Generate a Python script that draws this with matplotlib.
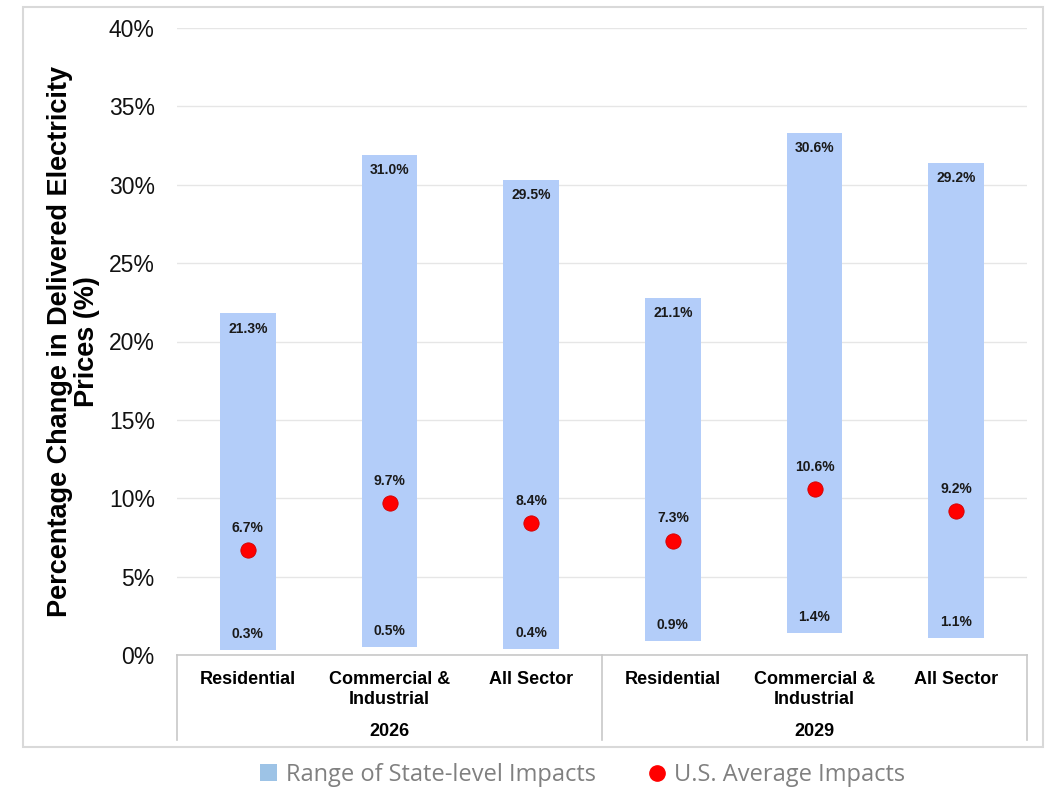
import matplotlib
matplotlib.use("Agg")
import matplotlib.pyplot as plt
from matplotlib.patches import Rectangle, Patch
from matplotlib.lines import Line2D
from matplotlib.ticker import FuncFormatter, MultipleLocator
import numpy as np

# ---- data ----
sectors = ["Residential", "Commercial &\nIndustrial", "All Sector",
           "Residential", "Commercial &\nIndustrial", "All Sector"]
years = ["2026", "2029"]
range_low = [0.3, 0.5, 0.4, 0.9, 1.4, 1.1]          # state-level minimum (%)
range_high = [21.3, 31.0, 29.5, 21.1, 30.6, 29.2]   # state-level maximum labels (%)
bar_top = [21.8, 31.9, 30.3, 22.8, 33.3, 31.4]      # drawn bar tops (%)
us_avg = [6.7, 9.7, 8.4, 7.3, 10.6, 9.2]            # U.S. average impact (%)

BAR_COLOR = "#B3CDF9"
LEG_SQ = "#9DC3E6"
FONT = "Liberation Sans"

fig = plt.figure(figsize=(10.48, 7.91), dpi=100)
W, H = 1048, 791
ax = fig.add_axes([177 / W, 1 - 655 / H, 850 / W, 627 / H])

x = np.arange(len(sectors))
heights = [t - l for t, l in zip(bar_top, range_low)]
ax.bar(x, heights, bottom=range_low, width=0.395, color=BAR_COLOR, zorder=2)
ax.plot(x, us_avg, linestyle="none", marker="o", markersize=11,
        markerfacecolor="#FF0000", markeredgecolor="#D00000", markeredgewidth=0.6, zorder=3)

lbl_kw = dict(ha="center", va="center", fontsize=10, fontweight="bold",
              family=FONT, color="#1a1a1a", textcoords="offset points", zorder=4)
for i in range(len(x)):
    ax.annotate(f"{range_high[i]:.1f}%", (x[i], bar_top[i]), xytext=(0, -11), **lbl_kw)
    ax.annotate(f"{range_low[i]:.1f}%", (x[i], range_low[i]), xytext=(0, 11.5), **lbl_kw)
    ax.annotate(f"{us_avg[i]:.1f}%", (x[i], us_avg[i]), xytext=(0, 16), **lbl_kw)

ax.set_xlim(-0.5, len(x) - 0.5)
ax.set_ylim(0, 40)
ax.yaxis.set_major_locator(MultipleLocator(5))
ax.yaxis.set_major_formatter(FuncFormatter(lambda v, p: f"{v:.0f}%"))
ax.grid(axis="y", color="#E6E6E6", linewidth=1.0, zorder=0)
ax.set_axisbelow(True)
for s in ["top", "right", "left"]:
    ax.spines[s].set_visible(False)
ax.spines["bottom"].set_color("#C8C8C8")
ax.spines["bottom"].set_linewidth(1.2)
ax.tick_params(axis="y", length=0, pad=16, labelsize=16.5, labelcolor="#111111")
for t in ax.get_yticklabels():
    t.set_family(FONT)
ax.set_xticks([])

# category axis (two-level)
ax_h = 627.0
sep_bottom = -(740 - 655) / ax_h
for xa in [0.0, 0.5, 1.0]:
    ax.plot([xa, xa], [0, sep_bottom], transform=ax.transAxes, color="#C8C8C8",
            linewidth=1.2, clip_on=False)
trans = ax.get_xaxis_transform()
line_base = [683.5, 704.5]
for i, s in enumerate(sectors):
    for j, part in enumerate(s.split("\n")):
        ax.text(x[i], -(line_base[j] - 655) / ax_h, part, transform=trans,
                ha="center", va="baseline", fontsize=13, fontweight="bold", family=FONT)
for g, yr in enumerate(years):
    ax.text(g * 3 + 1, -(735.5 - 655) / ax_h, yr, transform=trans, ha="center",
            va="baseline", fontsize=13, fontweight="bold", family=FONT)

# y label
ax.text((74 - 177) / 850, 0.5, "Percentage Change in Delivered Electricity\nPrices (%)",
        transform=ax.transAxes, rotation=90, ha="center", va="center",
        fontsize=19.5, fontweight="bold", family=FONT, linespacing=1.05,
        multialignment="center")

# outer frame
fig.patches.append(Rectangle((23 / W, 1 - 747 / H), (1043 - 23) / W, (747 - 7) / H,
                             transform=fig.transFigure, fill=False,
                             edgecolor="#D9D9D9", linewidth=1.5))

# legend
handles = [Patch(facecolor=LEG_SQ, edgecolor="none", label="Range of State-level Impacts"),
           Line2D([], [], linestyle="none", marker="o", markersize=11,
                  markerfacecolor="#FF0000", markeredgecolor="#FF0000",
                  label="U.S. Average Impacts")]
fig.legend(handles=handles, loc="center", bbox_to_anchor=(583 / W, 1 - 775 / H),
           ncol=2, frameon=False, handlelength=0.7, handleheight=0.7,
           handletextpad=0.4, columnspacing=2.2,
           prop={"family": "Open Sans", "size": 17}, labelcolor="#808080")

fig.savefig("out.png", dpi=100)
